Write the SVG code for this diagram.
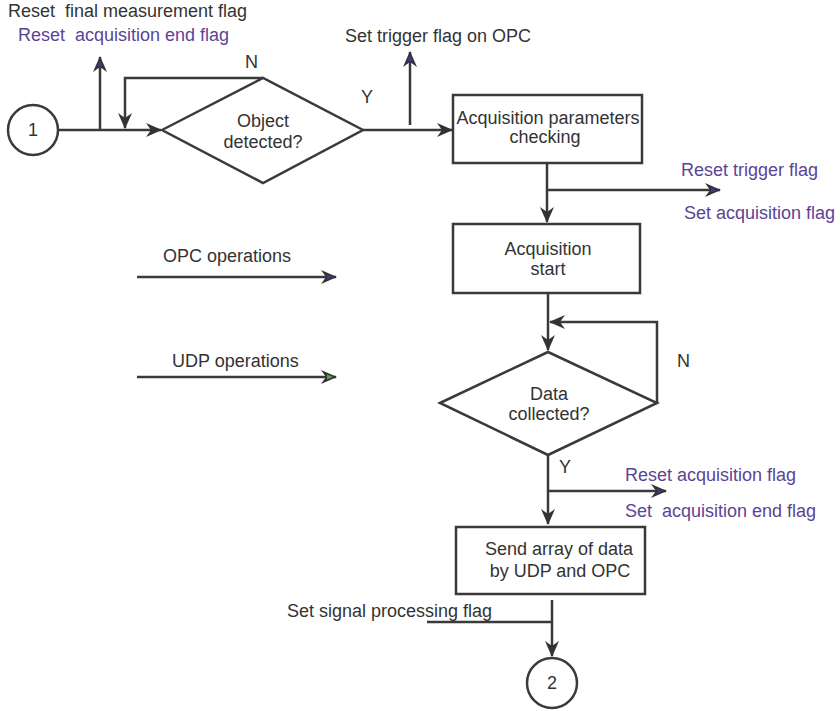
<svg xmlns="http://www.w3.org/2000/svg" width="840" height="711" viewBox="0 0 840 711">
<defs>
<style>
text{font-family:"Liberation Sans",Arial,sans-serif;font-size:18px;fill:#333;white-space:pre}
.p{fill:#5b4497}
.c{text-anchor:middle}
.shape{fill:#fff;stroke:#3a3a3a;stroke-width:2.5}
.ln{fill:none;stroke:#3a3a3a;stroke-width:2.5}
</style>
<marker id="ad" markerUnits="userSpaceOnUse" viewBox="0 0 16 14" markerWidth="16" markerHeight="14" refX="15" refY="7" orient="auto">
<path d="M0,0 L16,7 L0,14 L5,7 z" fill="#333"/>
</marker>
<marker id="ap" markerUnits="userSpaceOnUse" viewBox="0 0 16 14" markerWidth="16" markerHeight="14" refX="15" refY="7" orient="auto">
<path d="M0,0 L16,7 L0,14 L5,7 z" fill="#333"/>
<path d="M6,4.5 L12,7 L6,9.5 z" fill="#4b2f9a"/>
</marker>
<marker id="ag" markerUnits="userSpaceOnUse" viewBox="0 0 16 14" markerWidth="16" markerHeight="14" refX="15" refY="7" orient="auto">
<path d="M0,0 L16,7 L0,14 L5,7 z" fill="#333"/>
<path d="M6,4.5 L12,7 L6,9.5 z" fill="#4caf3a"/>
</marker>
</defs>
<rect width="840" height="711" fill="#fff"/>

<g id="connectors">
<path class="ln" d="M58,130 H161" marker-end="url(#ad)"/>
<path class="ln" d="M100,130 V57" marker-end="url(#ap)"/>
<path class="ln" d="M263,78 H125 V128" marker-end="url(#ad)"/>
<path class="ln" d="M363,130 H452" marker-end="url(#ad)"/>
<path class="ln" d="M410,125 V52" marker-end="url(#ap)"/>
<path class="ln" d="M547,163 V222" marker-end="url(#ad)"/>
<path class="ln" d="M547,190 H720" marker-end="url(#ap)"/>
<path class="ln" d="M548,293 V350" marker-end="url(#ad)"/>
<path class="ln" d="M657,403 V322 H550" marker-end="url(#ad)"/>
<path class="ln" d="M548,455 V524" marker-end="url(#ad)"/>
<path class="ln" d="M548,491 H666" marker-end="url(#ap)"/>
<path class="ln" d="M552,600 V656" marker-end="url(#ad)"/>
<path class="ln" d="M427,622 H552"/>
<path class="ln" d="M137,277 H336" marker-end="url(#ap)"/>
<path class="ln" d="M137,377 H336" marker-end="url(#ag)"/>
</g>

<g id="start1">
<circle class="shape" cx="33" cy="130" r="25"/>
<text class="c" x="33" y="136">1</text>
</g>

<g id="objectDetected">
<polygon class="shape" points="162,130 263,78 363,130 263,183"/>
<text class="c" x="263" y="127">Object</text>
<text class="c" x="263" y="148">detected?</text>
</g>

<g id="paramsCheck">
<rect class="shape" x="453" y="95" width="189" height="68"/>
<text class="c" x="548" y="124">Acquisition parameters</text>
<text class="c" x="545" y="143">checking</text>
</g>

<g id="acqStart">
<rect class="shape" x="453" y="224" width="187" height="69"/>
<text class="c" x="548" y="255">Acquisition</text>
<text class="c" x="548" y="275">start</text>
</g>

<g id="dataCollected">
<polygon class="shape" points="440,403 548,352 657,403 548,455"/>
<text class="c" x="549" y="400">Data</text>
<text class="c" x="549" y="420">collected?</text>
</g>

<g id="sendData">
<rect class="shape" x="456" y="527" width="189" height="67"/>
<text class="c" x="559" y="555">Send array of data</text>
<text class="c" x="560" y="577">by UDP and OPC</text>
</g>

<g id="end2">
<circle class="shape" cx="552" cy="683" r="25"/>
<text class="c" x="552" y="689">2</text>
</g>

<g id="labels">
<text x="8" y="17">Reset  final measurement flag</text>
<text class="p" x="18" y="41">Reset  acquisition end flag</text>
<text x="245" y="68">N</text>
<text x="361" y="103">Y</text>
<text x="345" y="42">Set trigger flag on OPC</text>
<text class="p" x="681" y="176">Reset trigger flag</text>
<text class="p" x="684" y="219">Set acquisition flag</text>
<text x="163" y="262">OPC operations</text>
<text x="172" y="367">UDP operations</text>
<text x="677" y="367">N</text>
<text x="559" y="473">Y</text>
<text class="p" x="625" y="481">Reset acquisition flag</text>
<text class="p" x="625" y="517">Set  acquisition end flag</text>
<text x="287" y="617">Set signal processing flag</text>
</g>
</svg>
